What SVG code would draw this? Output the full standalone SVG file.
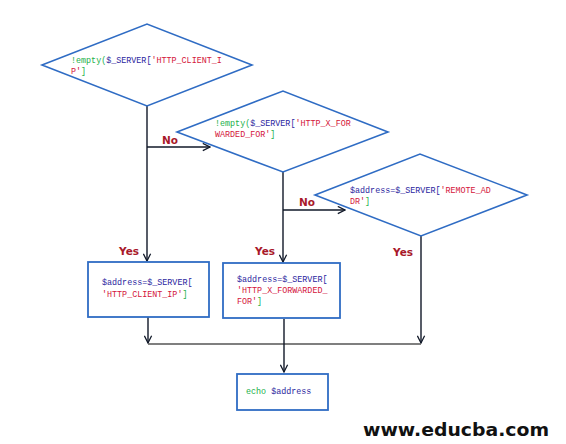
<svg xmlns="http://www.w3.org/2000/svg" width="566" height="444" viewBox="0 0 566 444">
<defs>
<style>
.dia{fill:#fff;stroke:#2f6cc4;stroke-width:1.6}
.box{fill:#fff;stroke:#2f6cc4;stroke-width:1.8}
.code{font-family:"Liberation Mono","DejaVu Sans Mono",monospace;font-size:8.4px}
.g{fill:#22b04a}.n{fill:#2a1e9e}.r{fill:#d4143a}
.lbl{font-family:"DejaVu Sans","Liberation Sans",sans-serif;font-size:10.5px;font-weight:bold;fill:#a8182a}
.ln{fill:none;stroke:#101828;stroke-width:1.4}
.gr{fill:none;stroke:#555;stroke-width:1.5}
</style>
<marker id="ah" viewBox="0 0 10 10" refX="9" refY="5" markerWidth="9" markerHeight="9" markerUnits="userSpaceOnUse" orient="auto">
<polyline points="1,1 9,5 1,9" fill="none" stroke="#101828" stroke-width="1.4"/>
</marker>
</defs>
<rect width="566" height="444" fill="#fff"/>
<g id="connectors">
<line class="ln" x1="147" y1="106" x2="147" y2="261" marker-end="url(#ah)"/>
<line class="ln" x1="147" y1="147" x2="210" y2="147" marker-end="url(#ah)"/>
<line class="ln" x1="283" y1="172" x2="283" y2="262" marker-end="url(#ah)"/>
<line class="ln" x1="283" y1="210" x2="345" y2="210" marker-end="url(#ah)"/>
<line class="ln" x1="421" y1="236" x2="421" y2="343" marker-end="url(#ah)"/>
<line class="ln" x1="148" y1="317" x2="148" y2="343" marker-end="url(#ah)"/>
<line class="gr" x1="148" y1="344" x2="421" y2="344"/>
<line class="ln" x1="284" y1="319" x2="284" y2="372" marker-end="url(#ah)"/>
<text class="lbl" x="162" y="144">No</text>
<text class="lbl" x="299" y="206">No</text>
<text class="lbl" x="119" y="255">Yes</text>
<text class="lbl" x="255" y="255">Yes</text>
<text class="lbl" x="393" y="256">Yes</text>
</g>
<g id="d1">
<polygon class="dia" points="42,65 147,24 252,65 147,106"/>
<text class="code" x="71" y="63"><tspan class="g">!empty(</tspan><tspan class="n">$_SERVER[</tspan><tspan class="r">'HTTP_CLIENT_I</tspan></text>
<text class="code" x="71" y="74"><tspan class="r">P'</tspan><tspan class="g">]</tspan></text>
</g>
<g id="d2">
<polygon class="dia" points="177,132 283,91 388,132 283,172"/>
<text class="code" x="215" y="126"><tspan class="g">!empty(</tspan><tspan class="n">$_SERVER[</tspan><tspan class="r">'HTTP_X_FOR</tspan></text>
<text class="code" x="215" y="137"><tspan class="r">WARDED_FOR'</tspan><tspan class="g">]</tspan></text>
</g>
<g id="d3">
<polygon class="dia" points="315,195 420,154 527,195 421,236"/>
<text class="code" x="350" y="193"><tspan class="n">$address=$_SERVER[</tspan><tspan class="r">'REMOTE_AD</tspan></text>
<text class="code" x="350" y="204"><tspan class="r">DR'</tspan><tspan class="g">]</tspan></text>
</g>
<g id="b1">
<rect class="box" x="88" y="262" width="121" height="55"/>
<text class="code" x="102" y="285"><tspan class="n">$address=$_SERVER[</tspan></text>
<text class="code" x="102" y="297"><tspan class="r">'HTTP_CLIENT_IP'</tspan><tspan class="g">]</tspan></text>
</g>
<g id="b2">
<rect class="box" x="223" y="263" width="117" height="55"/>
<text class="code" x="237" y="282"><tspan class="n">$address=$_SERVER[</tspan></text>
<text class="code" x="237" y="293"><tspan class="r">'HTTP_X_FORWARDED_</tspan></text>
<text class="code" x="237" y="304"><tspan class="r">FOR'</tspan><tspan class="g">]</tspan></text>
</g>
<g id="echo">
<rect class="box" x="237" y="374" width="91" height="36"/>
<text class="code" x="246" y="394"><tspan class="g">echo</tspan><tspan class="n"> $address</tspan></text>
</g>
<text x="363" y="436" font-family="DejaVu Sans,Verdana,sans-serif" font-weight="bold" font-size="17" fill="#111" textLength="186" lengthAdjust="spacingAndGlyphs">www.educba.com</text>
</svg>
